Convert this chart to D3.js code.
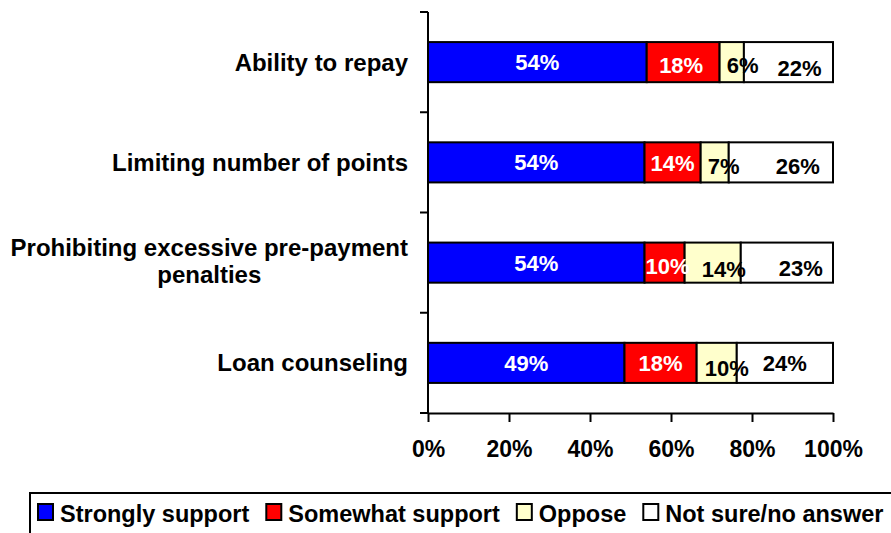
<!DOCTYPE html>
<html>
<head>
<meta charset="utf-8">
<script src="https://cdn.jsdelivr.net/npm/d3@7/dist/d3.min.js"></script>
<style>
  html, body { margin: 0; padding: 0; background: #fff; }
  svg { display: block; font-family: "Liberation Sans", Arial, sans-serif; font-weight: bold; }
</style>
</head>
<body>
<svg id="chart" width="891" height="533"></svg>
<script>
// Survey items (top to bottom) and answer shares in percent
const categories = [
  "Ability to repay",
  "Limiting number of points",
  "Prohibiting excessive pre-payment penalties",
  "Loan counseling"
];
const seriesNames = ["Strongly support", "Somewhat support", "Oppose", "Not sure/no answer"];
const stronglySupport = [54, 54, 54, 49];
const somewhatSupport = [18, 14, 10, 18];
const oppose = [6, 7, 14, 10];
const notSure = [22, 26, 23, 24];
const tickValues = [0, 0.2, 0.4, 0.6, 0.8, 1.0];

const seriesColors = ["#0000FF", "#FF0000", "#FFFFCC", "#FFFFFF"];
const labelColors = ["#FFFFFF", "#FFFFFF", "#000000", "#000000"];
// hand-placed label offsets [dx, dy] per row and series
const labelNudge = [
  [[0, 0], [-2, 3], [11, 3], [11, 6]],
  [[0, 0], [0, 1], [9, 4], [17, 4]],
  [[0, 0], [3, 3], [11, 6], [14, 5]],
  [[0, 0], [0, 0], [10, 5], [0, 0]]
];

const rows = categories.map((c, i) => ({
  category: c,
  "Strongly support": stronglySupport[i],
  "Somewhat support": somewhatSupport[i],
  "Oppose": oppose[i],
  "Not sure/no answer": notSure[i]
}));

const svg = d3.select("#chart");

const x = d3.scaleLinear().domain([0, 1]).range([428, 833]);
const y = d3.scaleBand().domain(categories).range([12, 413])
  .paddingInner(0.6).paddingOuter(0.3);
const yAxisBand = d3.scaleBand().domain(categories).range([12, 413]);

// 100% stacked layout
const stacked = d3.stack().keys(seriesNames).offset(d3.stackOffsetExpand)(rows);

// bars
const layers = svg.append("g").selectAll("g")
  .data(stacked).join("g")
  .attr("fill", (d, i) => seriesColors[i]);

layers.selectAll("rect")
  .data(d => d.map(v => ({ v, key: d.key })))
  .join("rect")
  .attr("x", d => x(d.v[0]))
  .attr("y", d => y(d.v.data.category))
  .attr("width", d => x(d.v[1]) - x(d.v[0]))
  .attr("height", y.bandwidth())
  .attr("stroke", "#000")
  .attr("stroke-width", 2);

// value labels
const labelSize = 22;
stacked.forEach((layer, si) => {
  svg.append("g").selectAll("text")
    .data(layer).join("text")
    .attr("x", (d, ri) => (x(d[0]) + x(d[1])) / 2 + labelNudge[ri][si][0])
    .attr("y", (d, ri) => y(d.data.category) + y.bandwidth() / 2 + labelSize * 0.36 + labelNudge[ri][si][1])
    .attr("text-anchor", "middle")
    .attr("font-size", labelSize)
    .attr("fill", labelColors[si])
    .text(d => d.data[layer.key] + "%");
});

// category axis (left)
const yAxis = svg.append("g").attr("transform", "translate(428,0)");
yAxis.append("line")
  .attr("x1", 0).attr("x2", 0).attr("y1", 12).attr("y2", 414)
  .attr("stroke", "#000").attr("stroke-width", 2);
yAxis.selectAll("line.tick")
  .data(categories.concat(["__end"]))
  .join("line").attr("class", "tick")
  .attr("x1", -8).attr("x2", 0)
  .attr("y1", (d, i) => i < categories.length ? yAxisBand(d) : yAxisBand.range()[1])
  .attr("y2", (d, i) => i < categories.length ? yAxisBand(d) : yAxisBand.range()[1])
  .attr("stroke", "#000").attr("stroke-width", 2);

const catSize = 24;
categories.forEach(c => {
  const cy = y(c) + y.bandwidth() / 2;
  if (c === "Prohibiting excessive pre-payment penalties") {
    const t = svg.append("text")
      .attr("text-anchor", "middle")
      .attr("font-size", catSize)
      .attr("fill", "#000");
    const l1 = t.append("tspan").attr("y", cy - 7).text("Prohibiting excessive pre-payment");
    const w = l1.node().getComputedTextLength();
    const cx = 408 - w / 2;
    l1.attr("x", cx);
    t.append("tspan").attr("x", cx).attr("y", cy + 20).text("penalties");
  } else {
    svg.append("text")
      .attr("x", 408)
      .attr("y", cy + catSize * 0.35)
      .attr("text-anchor", "end")
      .attr("font-size", catSize)
      .attr("fill", "#000")
      .text(c);
  }
});

// percent axis (bottom)
const xAxis = svg.append("g").attr("transform", "translate(0,413)")
  .call(d3.axisBottom(x).tickValues(tickValues).tickFormat(d3.format(".0%"))
    .tickSize(9).tickPadding(19).tickSizeOuter(0));
xAxis.select(".domain").attr("stroke", "#000").attr("stroke-width", 2);
xAxis.selectAll(".tick line").attr("stroke", "#000").attr("stroke-width", 2);
xAxis.selectAll(".tick text")
  .attr("font-size", 23).attr("font-weight", "bold")
  .attr("font-family", "Liberation Sans, Arial, sans-serif")
  .attr("fill", "#000").attr("dy", "0.71em");

// legend
const legend = svg.append("g");
legend.append("rect")
  .attr("x", 30).attr("y", 493).attr("width", 900).attr("height", 60)
  .attr("fill", "#fff").attr("stroke", "#000").attr("stroke-width", 2);
let lx = 38;
seriesNames.forEach((name, i) => {
  legend.append("rect")
    .attr("x", lx).attr("y", 504).attr("width", 15).attr("height", 16)
    .attr("fill", seriesColors[i]).attr("stroke", "#000").attr("stroke-width", 2);
  const t = legend.append("text")
    .attr("x", lx + 22).attr("y", 521.5)
    .attr("font-size", 23.5).attr("fill", "#000")
    .text(name);
  lx += 22 + t.node().getComputedTextLength() + 17;
});
</script>
</body>
</html>
